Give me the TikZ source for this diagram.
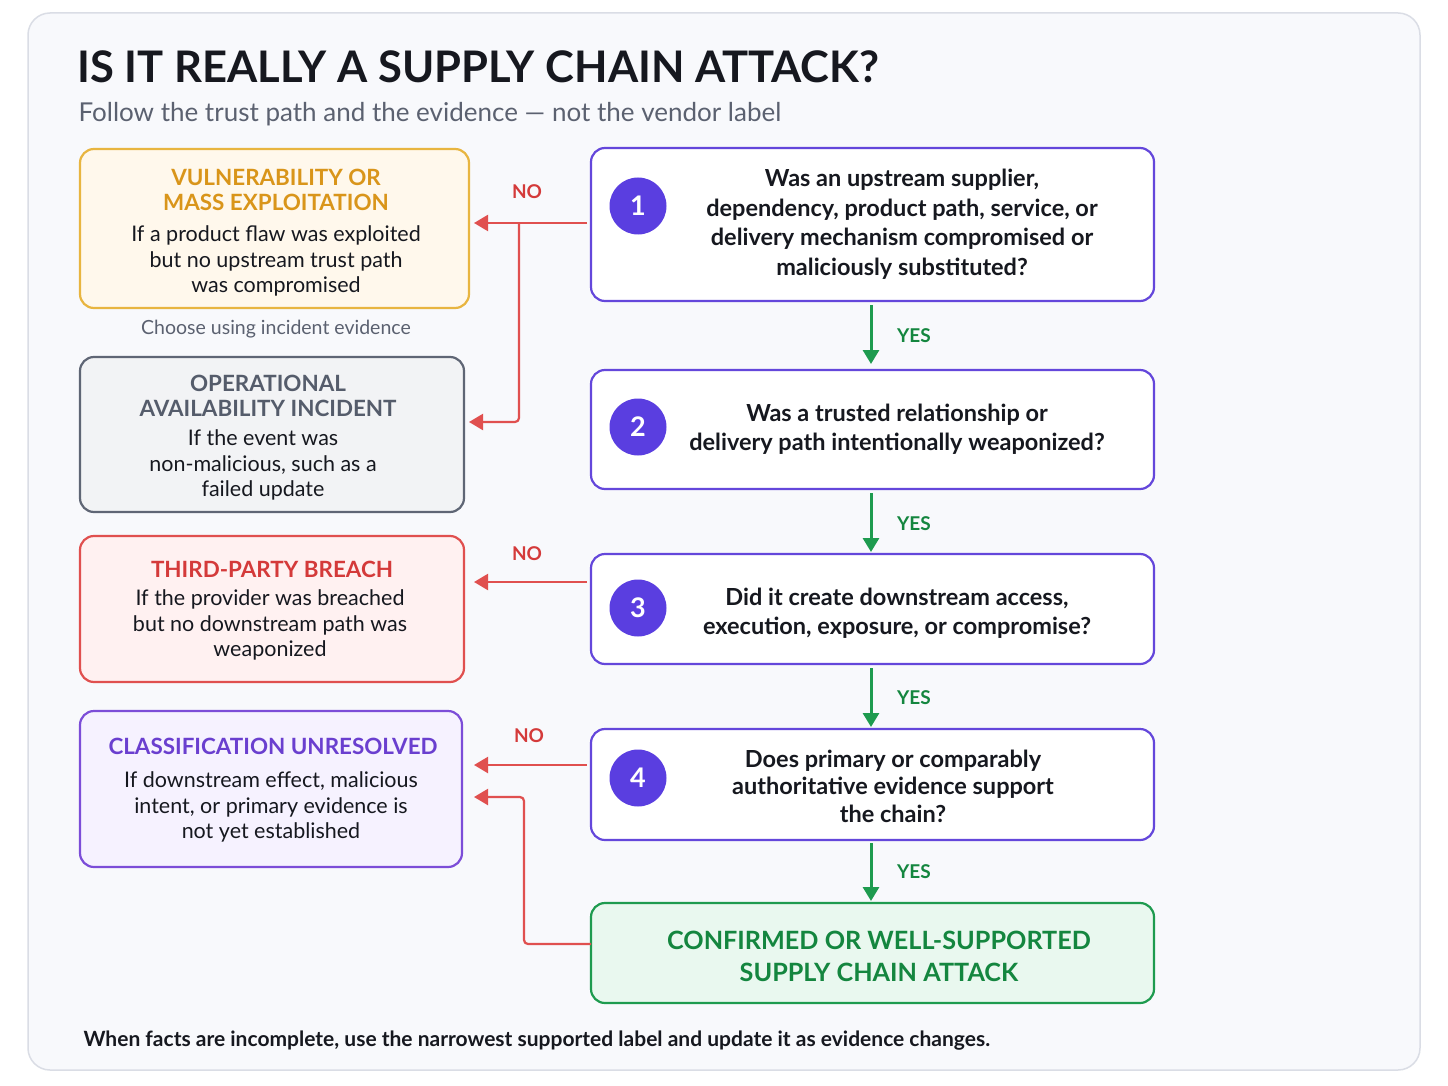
\documentclass[tikz,border=0pt]{standalone}
\usepackage{fontspec}
\setmainfont{Lato}
\usetikzlibrary{arrows.meta}
\definecolor{bgc}{HTML}{F8F9FC}
\definecolor{frame}{HTML}{DADDE5}
\definecolor{ink}{HTML}{16181F}
\definecolor{sub}{HTML}{5B6170}
\definecolor{orf}{HTML}{FFF8EC}\definecolor{ord}{HTML}{E8B540}\definecolor{ort}{HTML}{D9951A}
\definecolor{grf}{HTML}{F2F3F5}\definecolor{grd}{HTML}{5F6675}\definecolor{grt}{HTML}{555C6B}
\definecolor{rdf}{HTML}{FFF1F1}\definecolor{rdd}{HTML}{E0504F}\definecolor{rdt}{HTML}{D43A3A}
\definecolor{puf}{HTML}{F6F2FF}\definecolor{pud}{HTML}{7C4DD8}\definecolor{put}{HTML}{6A3FCF}
\definecolor{qd}{HTML}{6447DB}\definecolor{qc}{HTML}{5A3EE0}
\definecolor{gnf}{HTML}{E9F8EF}\definecolor{gnd}{HTML}{1E9B4F}\definecolor{gnt}{HTML}{14863F}
\begin{document}
\begin{tikzpicture}[x=1pt,y=-1pt,
  box/.style={rounded corners=14pt,line width=2.2pt},
  ttl/.style={font=\fontsize{22.4}{26}\selectfont\bfseries,align=center},
  bod/.style={font=\fontsize{21.5}{25.5}\selectfont,align=center,text=ink},
  qtx/.style={font=\fontsize{23.5}{29.5}\selectfont\bfseries,align=center,text=ink},
  num/.style={circle,fill=qc,text=white,minimum size=57pt,inner sep=0pt,font=\fontsize{27}{27}\selectfont\bfseries},
  yes/.style={-{Triangle[length=14pt,width=16pt]},line width=3pt,draw=gnd},
  no/.style={-{Triangle[length=14pt,width=16pt]},line width=2.2pt,draw=rdd},
  lab/.style={font=\fontsize{19}{19}\selectfont\bfseries}]
\useasboundingbox (0,0) rectangle (1448,1086);
\fill[white] (0,0) rectangle (1448,1086);
\draw[fill=bgc,draw=frame,line width=1.5pt,rounded corners=22pt] (28,13) rectangle (1420,1070);
\node[anchor=west,font=\fontsize{43.5}{44}\selectfont\bfseries,text=ink] (title) at (74,67) {IS IT REALLY A SUPPLY CHAIN ATTACK?};
\node[anchor=west,font=\fontsize{26}{28}\selectfont,text=sub] (subt) at (75,114) {Follow the trust path and the evidence — not the vendor label};
% left boxes
\draw[box,fill=orf,draw=ord] (80,149) rectangle (469,308);
\node[ttl,text=ort] (t1) at (276,190) {VULNERABILITY OR\\[-1pt]MASS EXPLOITATION};
\node[bod] (b1) at (276,261) {If a product flaw was exploited\\but no upstream trust path\\was compromised};
\node[font=\fontsize{19.5}{20}\selectfont,text=sub] (cap) at (276,329) {Choose using incident evidence};
\draw[box,fill=grf,draw=grd] (80,357) rectangle (464,512);
\node[ttl,text=grt] (t2) at (268,396) {OPERATIONAL\\[-1pt]AVAILABILITY INCIDENT};
\node[bod] (b2) at (263,465) {If the event was\\non-malicious, such as a\\failed update};
\draw[box,fill=rdf,draw=rdd] (80,536) rectangle (464,682);
\node[ttl,text=rdt] (t3) at (272,569) {THIRD-PARTY BREACH};
\node[bod] (b3) at (270,625) {If the provider was breached\\but no downstream path was\\weaponized};
\draw[box,fill=puf,draw=pud] (80,711) rectangle (462,867);
\node[ttl,text=put] (t4) at (273,746) {CLASSIFICATION UNRESOLVED};
\node[bod] (b4) at (271,807) {If downstream effect, malicious\\intent, or primary evidence is\\not yet established};
% right boxes
\draw[box,fill=white,draw=qd] (591,148) rectangle (1154,301);
\node[num] (n1) at (638,206) {1};
\node[qtx] (q1) at (902,224) {Was an upstream supplier,\\dependency, product path, service, or\\delivery mechanism compromised or\\maliciously substituted?};
\draw[box,fill=white,draw=qd] (591,370) rectangle (1154,489);
\node[num] (n2) at (638,427) {2};
\node[qtx] (q2) at (897,429) {Was a trusted relationship or\\delivery path intentionally weaponized?};
\draw[box,fill=white,draw=qd] (591,554) rectangle (1154,664);
\node[num] (n3) at (638,608) {3};
\node[qtx] (q3) at (897,613) {Did it create downstream access,\\execution, exposure, or compromise?};
\draw[box,fill=white,draw=qd] (591,729) rectangle (1154,840);
\node[num] (n4) at (638,778) {4};
\node[font=\fontsize{23.5}{27.5}\selectfont\bfseries,align=center,text=ink] (q4) at (893,786) {Does primary or comparably\\authoritative evidence support\\the chain?};
\draw[box,fill=gnf,draw=gnd] (591,903) rectangle (1154,1003);
\node[font=\fontsize{25.2}{32}\selectfont\bfseries,align=center,text=gnt] (g) at (879,956) {CONFIRMED OR WELL-SUPPORTED\\SUPPLY CHAIN ATTACK};
% yes arrows
\coordinate (y1a) at (871,305); \coordinate (y1b) at (871,364);
\coordinate (y2a) at (871,493); \coordinate (y2b) at (871,552);
\coordinate (y3a) at (871,668); \coordinate (y3b) at (871,727);
\coordinate (y4a) at (871,843); \coordinate (y4b) at (871,901);
\foreach \a/\b in {y1a/y1b,y2a/y2b,y3a/y3b,y4a/y4b} \draw[yes] (\a) -- (\b);
\foreach \yy in {336,524,698,872} \node[lab,text=gnt] at (914,\yy) {YES};
% no arrows
\coordinate (r1) at (587,223); \coordinate (r1e) at (474,223);
\coordinate (r1m) at (519,223); \coordinate (r2e) at (469,422);
\draw[no] (r1) -- (r1e);
\draw[no,rounded corners=4pt] (r1m) -- (519,422) -- (r2e);
\node[lab,text=rdt] at (527,192) {NO};
\coordinate (r3) at (587,582); \coordinate (r3e) at (474,582);
\draw[no] (r3) -- (r3e); \node[lab,text=rdt] at (527,554) {NO};
\coordinate (r4) at (587,765); \coordinate (r4e) at (474,765);
\draw[no] (r4) -- (r4e); \node[lab,text=rdt] at (529,736) {NO};
\coordinate (r5) at (591,944); \coordinate (r5e) at (474,797);
\draw[no,rounded corners=4pt] (r5) -- (524,944) -- (524,797) -- (r5e);
\node[anchor=west,font=\fontsize{21}{22}\selectfont\bfseries,text=ink] (foot) at (80,1041) {When facts are incomplete, use the narrowest supported label and update it as evidence changes.};
\end{tikzpicture}
\end{document}
